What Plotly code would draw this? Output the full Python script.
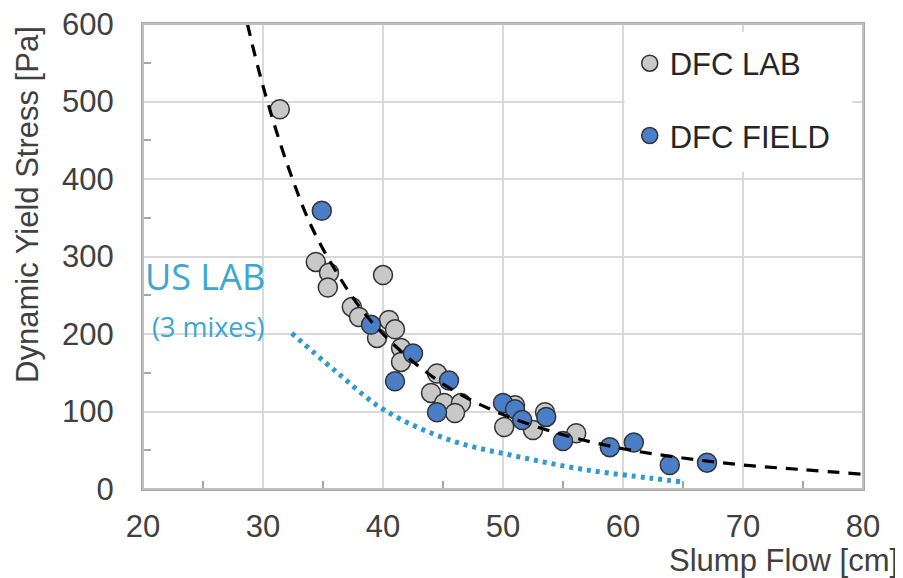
import plotly.graph_objects as go

# ---- data ----
lab_x = [31.4, 34.4, 35.5, 35.4, 40.0, 37.4, 38.0, 40.5, 41.0, 39.5, 41.5, 41.5,
         44.5, 44.0, 45.1, 46.5, 46.0, 51.0, 50.1, 52.5, 53.5, 56.1]
lab_y = [490, 293, 279, 260, 276, 235, 222, 218, 206, 195, 182, 164,
         149, 124, 111, 111, 98, 108, 80, 76, 99, 72]

field_x = [34.9, 39.0, 42.5, 41.0, 45.5, 44.5, 50.0, 51.0, 51.6, 53.6, 55.0,
           58.9, 60.9, 63.9, 67.0]
field_y = [359, 212, 175, 139, 140, 99, 111, 103, 89, 93, 62, 54, 60, 31, 34]

trend_x = [28.7, 30, 32, 34, 36, 38, 40, 43, 46, 50, 55, 60, 65, 70, 75, 80]
trend_y = [600, 520, 420, 340, 283, 236, 200, 158, 126, 96, 70, 52, 40, 31, 25, 19]

us_x = [32.4, 35.9, 40.1, 45.6, 51.2, 56.8, 62.3, 65.0]
us_y = [201, 154, 102, 63, 42, 25, 14, 9]

x_title = "Slump Flow [cm]"
y_title = "Dynamic Yield Stress [Pa]"

AX_FONT = "Liberation Sans, Arial, sans-serif"
TXT = "#404040"
GRID = "#D9D9D9"
LINE = "#A6A6A6"

fig = go.Figure()

fig.add_trace(go.Scatter(
    x=us_x, y=us_y, mode="lines", line_shape="spline", showlegend=False,
    line=dict(color="#2E9AD0", width=5, dash="4px,5px"), hoverinfo="skip"))

fig.add_trace(go.Scatter(
    x=lab_x, y=lab_y, mode="markers", name="DFC LAB", legendgroup="a",
    marker=dict(size=19, color="#C8C8C8", line=dict(color="#333333", width=1.5))))

fig.add_trace(go.Scatter(
    x=field_x, y=field_y, mode="markers", name="DFC FIELD", legendgroup="b",
    marker=dict(size=19, color="#4A7FC8", line=dict(color="#333333", width=1.5))))

fig.add_trace(go.Scatter(
    x=trend_x, y=trend_y, mode="lines", line_shape="spline", showlegend=False,
    line=dict(color="black", width=3.2, dash="12px,9px"), hoverinfo="skip"))

axis_common = dict(
    showgrid=True, gridcolor=GRID, gridwidth=2,
    showline=True, linecolor=LINE, linewidth=2, mirror=True,
    ticks="", zeroline=False, automargin=False, ticklabeloverflow="allow",
    tickfont=dict(family=AX_FONT, size=31, color=TXT),
)

fig.update_xaxes(range=[20, 80], dtick=10, tick0=20,
                 minor=dict(dtick=5, ticks="inside", ticklen=8, tickcolor=LINE, tickwidth=1.5, showgrid=False),
                 ticklabelstandoff=9, **axis_common)
fig.update_yaxes(range=[0, 600], dtick=100, tick0=0,
                 minor=dict(dtick=50, ticks="inside", ticklen=8, tickcolor=LINE, tickwidth=1.5, showgrid=False),
                 ticklabelstandoff=21, **axis_common)

fig.update_layout(
    width=903, height=578,
    margin=dict(l=135, r=48, t=16, b=97),
    paper_bgcolor="white", plot_bgcolor="white",
    legend=dict(x=0.676, y=0.973, xanchor="left", yanchor="top",
                bgcolor="rgba(0,0,0,0)", tracegroupgap=29,
                font=dict(family=AX_FONT, size=31, color="#262626"),
                itemsizing="trace", traceorder="grouped", itemwidth=30),
    shapes=[
        dict(type="rect", xref="paper", yref="paper",
             x0=0.669, x1=0.985, y0=0.682, y1=0.983,
             fillcolor="white", line=dict(width=0), layer="above"),
        dict(type="rect", xref="paper", yref="paper",
             x0=0, x1=1, y0=0, y1=1,
             fillcolor="rgba(0,0,0,0)", line=dict(width=2, color="#BFBFBF"), layer="above"),
    ],
    annotations=[
        dict(text=y_title, xref="paper", yref="paper", x=0, y=0.611,
             xshift=-115, textangle=-90, showarrow=False,
             xanchor="center", yanchor="middle",
             font=dict(family=AX_FONT, size=31, color=TXT)),
        dict(text=x_title, xref="paper", yref="paper", x=1.051, y=0,
             yshift=-71, showarrow=False, xanchor="right", yanchor="middle",
             font=dict(family=AX_FONT, size=31, color=TXT)),
        dict(text="US LAB", xref="paper", yref="y", x=0, xshift=0, y=274,
             showarrow=False, xanchor="left", yanchor="middle",
             font=dict(family="Open Sans, sans-serif", size=36, color="#3BA7D2")),
        dict(text="(3 mixes)", xref="paper", yref="y", x=0, xshift=7, y=210,
             showarrow=False, xanchor="left", yanchor="middle",
             font=dict(family="Open Sans, sans-serif", size=27, color="#3BA7D2")),
    ],
)

fig.write_html("out.html")
